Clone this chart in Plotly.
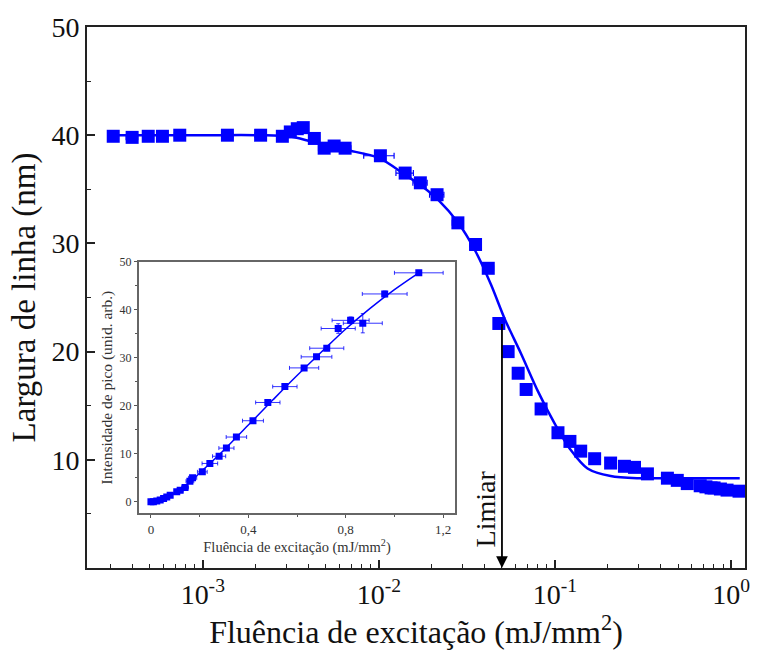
import numpy as np
import plotly.graph_objects as go

# ---------------- main plot data ----------------
main_x = [3.1e-4, 3.97e-4, 4.9e-4, 5.9e-4, 7.4e-4, 1.38e-3, 2.13e-3, 2.83e-3, 3.14e-3,
          3.44e-3, 3.72e-3, 4.30e-3, 4.89e-3, 5.57e-3, 6.43e-3, 1.02e-2, 1.41e-2,
          1.72e-2, 2.14e-2, 2.81e-2, 3.54e-2, 4.18e-2, 4.8e-2, 5.42e-2, 6.18e-2,
          6.86e-2, 8.34e-2, 0.104, 0.1216, 0.140, 0.168, 0.207, 0.248, 0.283, 0.335,
          0.435, 0.495, 0.564, 0.668, 0.72, 0.77, 0.801, 0.87, 0.949, 1.11]
main_y = [39.9, 39.8, 39.9, 39.9, 40.0, 40.0, 40.0, 39.9, 40.3,
          40.6, 40.7, 39.7, 38.8, 39.0, 38.8, 38.1, 36.5,
          35.6, 34.5, 31.9, 29.9, 27.7, 22.6, 20.0, 18.0,
          16.5, 14.7, 12.5, 11.7, 10.8, 10.1, 9.7, 9.4, 9.3, 8.7,
          8.3, 8.1, 7.8, 7.6, 7.5, 7.4, 7.4, 7.3, 7.2, 7.1]
main_xerr = [2e-5, 3e-5, 3e-5, 4e-5, 5e-5, 1e-4, 1.5e-4, 2e-4, 2e-4,
             2.5e-4, 2.5e-4, 3e-4, 3.5e-4, 4e-4, 5e-4, 2.0e-3, 1.6e-3,
             1.6e-3, 2.0e-3, 2e-3, 2.5e-3, 3e-3, 3e-3, 3.5e-3, 4e-3,
             4.5e-3, 5e-3, 7e-3, 8e-3, 9e-3, 1e-2, 1.3e-2, 1.6e-2, 1.8e-2, 2.2e-2,
             2.8e-2, 3e-2, 3.5e-2, 4e-2, 4.5e-2, 5e-2, 5e-2, 5.5e-2, 6e-2, 7e-2]

fit_x = [3.1e-4, 9.6e-4, 2.1e-3, 3.1e-3, 4.18e-3, 6.5e-3, 1.0e-2, 1.42e-2, 1.75e-2,
         2.18e-2, 2.82e-2, 3.53e-2, 4.33e-2, 5.19e-2, 6.42e-2, 8.02e-2, 0.100,
         0.123, 0.153, 0.207, 0.295, 0.5, 1.12]
fit_y = [40.0, 40.0, 40.0, 39.9, 39.4, 38.65, 37.9, 36.3, 35.3,
         34.0, 31.9, 29.3, 26.2, 23.0, 19.8, 16.3, 13.3,
         10.9, 9.2, 8.5, 8.3, 8.3, 8.3]

main_xticks = [1e-3, 1e-2, 1e-1, 1e0]
main_xticktext = ["10<sup>-3</sup>", "10<sup>-2</sup>", "10<sup>-1</sup>", "10<sup>0</sup>"]
main_xminor = [m * d for d in [1e-4, 1e-3, 1e-2, 1e-1] for m in range(2, 10)]
main_yticks = [10, 20, 30, 40, 50]
main_yminor = [5, 15, 25, 35, 45]

threshold_x = 0.05
threshold_top = 22.7

# ---------------- inset data ----------------
ins_x = [0.0, 0.01, 0.024, 0.038, 0.052, 0.065, 0.079, 0.106, 0.12, 0.14, 0.16, 0.171,
         0.211, 0.242, 0.28, 0.31, 0.351, 0.419, 0.48, 0.55, 0.629, 0.68, 0.722,
         0.769, 0.82, 0.87, 0.96, 1.10]
ins_y = [0.0, 0.05, 0.2, 0.4, 0.7, 1.0, 1.4, 2.1, 2.4, 3.0, 4.3, 5.0,
         6.25, 8.0, 9.5, 11.2, 13.5, 16.9, 20.7, 24.0, 27.9, 30.2, 32.0,
         36.1, 37.8, 37.2, 43.3, 47.7]
ins_xerr = [0.0, 0.001, 0.002, 0.004, 0.005, 0.006, 0.008, 0.01, 0.012, 0.014, 0.016, 0.017,
            0.02, 0.032, 0.027, 0.031, 0.042, 0.043, 0.05, 0.05, 0.06, 0.063, 0.07,
            0.07, 0.076, 0.08, 0.092, 0.1]
ins_yerr = [0, 0, 0, 0, 0, 0, 0, 0, 0, 0, 0, 0,
            0.3, 0.3, 0.3, 0.3, 0.3, 0.3, 0.4, 0.4, 0.4, 0.5, 0.5,
            1.0, 0.7, 2.0, 0.6, 0.5]

ins_fit_x = [0.0, 0.05, 0.1, 0.15, 0.2, 0.3, 0.4, 0.5, 0.6, 0.7, 0.8, 0.9, 1.0, 1.1]
ins_fit_y = [0.0, 0.6, 1.9, 3.7, 6.0, 10.8, 16.0, 21.2, 26.3, 31.2, 36.0, 40.3, 44.2, 47.7]

ins_xticks = [0, 0.4, 0.8, 1.2]
ins_xticktext = ["0", "0,4", "0,8", "1,2"]
ins_xminor = [0.2, 0.6, 1.0]
ins_yticks = [0, 10, 20, 30, 40, 50]
ins_yminor = [5, 15, 25, 35, 45]

BLUE = "#0000ff"
SERIF = "Liberation Serif"

fig = go.Figure()
fig.add_trace(go.Scatter(x=fit_x, y=fit_y, mode="lines",
                         line=dict(color=BLUE, width=2.5, shape="spline", smoothing=0.8),
                         xaxis="x", yaxis="y", showlegend=False))
fig.add_trace(go.Scatter(x=main_x, y=main_y, mode="markers",
                         marker=dict(symbol="square", size=13, color=BLUE),
                         error_x=dict(type="data", array=main_xerr, color=BLUE, thickness=1.2, width=3),
                         xaxis="x", yaxis="y", showlegend=False))

fig.add_trace(go.Scatter(x=ins_fit_x, y=ins_fit_y, mode="lines",
                         line=dict(color=BLUE, width=1.5, shape="spline"),
                         xaxis="x2", yaxis="y2", showlegend=False))
fig.add_trace(go.Scatter(x=ins_x, y=ins_y, mode="markers",
                         marker=dict(symbol="square", size=7, color=BLUE),
                         error_x=dict(type="data", array=ins_xerr, color=BLUE, thickness=0.8, width=2),
                         error_y=dict(type="data", array=ins_yerr, color=BLUE, thickness=0.8, width=2),
                         xaxis="x2", yaxis="y2", showlegend=False))

W, H = 762, 651
L, R, T, B = 87, 748, 23, 568
pw, ph = R - L, B - T

def dom_x(a, b):
    return [(a - L) / pw, (b - L) / pw]

def dom_y(top, bot):
    return [(B - bot) / ph, (B - top) / ph]

fig.update_layout(
    width=W, height=H,
    margin=dict(l=L, r=W - R, t=T, b=H - B),
    paper_bgcolor="white", plot_bgcolor="white",
    font=dict(family=SERIF, color="#111"),
    xaxis=dict(type="log", range=[np.log10(2.2e-4), np.log10(1.2)],
               tickmode="array", tickvals=main_xticks, ticktext=main_xticktext,
               ticks="inside", ticklen=8, tickwidth=1.5, tickcolor="#222",
               minor=dict(tickmode="array", tickvals=main_xminor, ticks="inside", ticklen=4,
                          tickwidth=1.2, tickcolor="#222", showgrid=False),
               showline=True, linecolor="#222", linewidth=2, mirror=True,
               showgrid=False, zeroline=False,
               tickfont=dict(size=28, family=SERIF),
               title=dict(text="Fluência de excitação (mJ/mm<sup>2</sup>)",
                          font=dict(size=32, family=SERIF), standoff=4)),
    yaxis=dict(range=[0, 50], tickmode="array", tickvals=main_yticks,
               ticks="inside", ticklen=8, tickwidth=1.5, tickcolor="#222",
               minor=dict(tickmode="array", tickvals=main_yminor, ticks="inside", ticklen=4,
                          tickwidth=1.2, tickcolor="#222", showgrid=False),
               showline=True, linecolor="#222", linewidth=2, mirror=True,
               showgrid=False, zeroline=False,
               tickfont=dict(size=28, family=SERIF),
               title=dict(text="Largura de linha (nm)", font=dict(size=33, family=SERIF), standoff=6)),
    xaxis2=dict(domain=dom_x(139, 457), anchor="y2", range=[-0.05, 1.25],
                tickmode="array", tickvals=ins_xticks, ticktext=ins_xticktext,
                ticks="outside", ticklen=3, tickwidth=1, tickcolor="#555",
                minor=dict(tickmode="array", tickvals=ins_xminor, ticks="outside", ticklen=2,
                           tickcolor="#555", showgrid=False),
                showline=True, linecolor="#666", linewidth=1.5, mirror=True,
                showgrid=False, zeroline=False,
                tickfont=dict(size=13, family=SERIF, color="#333"),
                title=dict(text="Fluência de excitação (mJ/mm<sup>2</sup>)",
                           font=dict(size=14.5, family=SERIF, color="#333"), standoff=1)),
    yaxis2=dict(domain=dom_y(259.5, 513), anchor="x2", range=[-2.4, 50],
                tickmode="array", tickvals=ins_yticks,
                ticks="outside", ticklen=3, tickwidth=1, tickcolor="#555",
                minor=dict(tickmode="array", tickvals=ins_yminor, ticks="outside", ticklen=2,
                           tickcolor="#555", showgrid=False),
                showline=True, linecolor="#666", linewidth=1.5, mirror=True,
                showgrid=False, zeroline=False,
                tickfont=dict(size=12, family=SERIF, color="#333"),
                title=dict(text="Intensidade de pico (unid. arb.)",
                           font=dict(size=15.5, family=SERIF, color="#333"), standoff=3)),
    annotations=[
        dict(x=np.log10(threshold_x), y=0, ax=np.log10(threshold_x), ay=threshold_top,
             xref="x", yref="y", axref="x", ayref="y", text="", showarrow=True,
             arrowhead=2, arrowsize=1.3, arrowwidth=1.8, arrowcolor="black"),
        dict(x=np.log10(threshold_x), y=5.5, xref="x", yref="y", text="Limiar",
             showarrow=False, textangle=-90, xshift=-16,
             font=dict(size=28, family=SERIF, color="#111")),
    ],
)

fig.write_html("out.html")
